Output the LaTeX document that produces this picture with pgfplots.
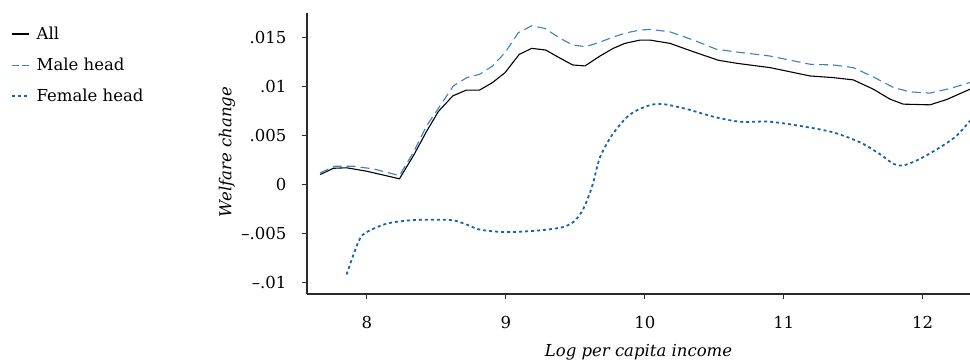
\documentclass[border=0pt]{standalone}
\usepackage{fontspec}
\setmainfont{DejaVu Serif}
\usepackage{pgfplots}
\pgfplotsset{compat=1.18}
\definecolor{maleblue}{HTML}{3A80C2}
\definecolor{femblue}{HTML}{1864AA}
\definecolor{axisgray}{HTML}{2A2A2A}
\newcommand{\labfont}{\fontsize{16.5}{19}\selectfont}
\begin{document}
\begin{tikzpicture}[x=1pt,y=1pt]
\useasboundingbox (0,0) rectangle (970,-361);
\begin{axis}[
  at={(307pt,-294pt)}, anchor=south west,
  scale only axis, width=663pt, height=281pt,
  xmin=7.57, xmax=12.34, ymin=-0.01115, ymax=0.01746,
  axis lines*=left,
  axis line style={-, axisgray, line width=1.2pt},
  tick align=outside, major tick length=5pt,
  tick style={axisgray, line width=1.2pt},
  tick label style={font=\labfont},
  xtick={8,9,10,11,12}, xticklabels={8,9,10,11,12},
  ytick={-0.01,-0.005,0,0.005,0.01,0.015},
  yticklabels={--.01,--.005,0,.005,.01,.015},
  scaled y ticks=false,
  xticklabel style={yshift=-14pt},
  yticklabel style={xshift=-12pt},
  xlabel={Log per capita income},
  ylabel={Welfare change},
  xlabel style={font=\labfont\itshape, at={(rel axis cs:0.5,-0.206)}, anchor=center},
  ylabel style={font=\labfont\itshape, at={(rel axis cs:-0.1207,0.505)}, anchor=center},
  legend style={draw=none, fill=none, inner sep=0pt, row sep=13pt,
    font=\labfont, cells={anchor=west},
    at={(rel axis cs:-0.447,0.958)}, anchor=north west},
  legend image code/.code={\draw[#1] (0pt,0pt) -- (17pt,0pt); \path (22pt,0pt);},
  clip=false,
]
% All households
\addplot[black, line width=1.1pt] coordinates {
(7.664,0.00101) (7.76,0.00165) (7.855,0.0017) (8.0,0.00135) (8.235,0.00058)
(8.336,0.00294) (8.43,0.0054) (8.515,0.00743) (8.62,0.00903) (8.715,0.0096)
(8.81,0.0096) (8.905,0.01038) (8.995,0.01139) (9.097,0.01325) (9.187,0.01386)
(9.287,0.01369) (9.385,0.01291) (9.481,0.01217) (9.57,0.01207) (9.678,0.01308)
(9.773,0.01386) (9.857,0.01437) (9.965,0.0147) (10.038,0.0147) (10.181,0.01437)
(10.349,0.01352) (10.529,0.01265) (10.661,0.01234) (10.901,0.0119) (11.189,0.01105)
(11.357,0.01088) (11.5,0.01065) (11.645,0.0097) (11.764,0.00869) (11.86,0.00818)
(12.052,0.00811) (12.172,0.00865) (12.34,0.0097)
};
\addlegendentry{All}
% Male-headed households
\addplot[maleblue, line width=1.1pt, dash pattern=on 9pt off 5pt,
  legend image code/.code={\draw[maleblue, line width=1.1pt, dash pattern=on 7pt off 3pt] (0pt,0pt) -- (17pt,0pt); \path (22pt,0pt);}] coordinates {
(7.664,0.00118) (7.77,0.00186) (7.9,0.00186) (8.047,0.00159) (8.235,0.00091)
(8.336,0.00328) (8.431,0.00598) (8.527,0.008) (8.623,0.01004) (8.72,0.01088)
(8.814,0.01123) (8.905,0.01207) (8.995,0.01342) (9.09,0.01545) (9.187,0.01616)
(9.282,0.01589) (9.385,0.01494) (9.481,0.0142) (9.577,0.01403) (9.678,0.0145)
(9.773,0.01501) (9.87,0.01545) (9.965,0.01572) (10.038,0.01579) (10.18,0.01555)
(10.35,0.0147) (10.517,0.01376) (10.661,0.01349) (10.9,0.01308) (11.19,0.01224)
(11.357,0.01217) (11.5,0.0119) (11.645,0.01095) (11.79,0.00987) (11.91,0.00943)
(12.05,0.0093) (12.196,0.00977) (12.34,0.01038)
};
\addlegendentry{Male head}
% Female-headed households
\addplot[femblue, line width=1.8pt, dash pattern=on 3pt off 3pt, smooth, tension=0.5] coordinates {
(7.855,-0.00916) (7.903,-0.0072) (7.951,-0.00551) (8.0,-0.00484) (8.143,-0.00399)
(8.311,-0.00365) (8.479,-0.00358) (8.623,-0.00365) (8.72,-0.00409) (8.815,-0.0046)
(8.983,-0.00484) (9.15,-0.00477) (9.294,-0.0046) (9.414,-0.00433) (9.486,-0.00382)
(9.546,-0.00281) (9.594,-0.00129) (9.63,0.00023) (9.678,0.00277) (9.762,0.00497)
(9.858,0.00666) (9.93,0.00745) (10.038,0.00808) (10.134,0.00818) (10.302,0.00768)
(10.494,0.0069) (10.686,0.00639) (10.9,0.00639) (11.14,0.00591) (11.357,0.0053)
(11.549,0.00429) (11.69,0.00311) (11.79,0.0021) (11.86,0.00193) (11.98,0.00261)
(12.124,0.00378) (12.244,0.00497) (12.34,0.00649)
};
\addlegendentry{Female head}
\end{axis}
\end{tikzpicture}
\end{document}
